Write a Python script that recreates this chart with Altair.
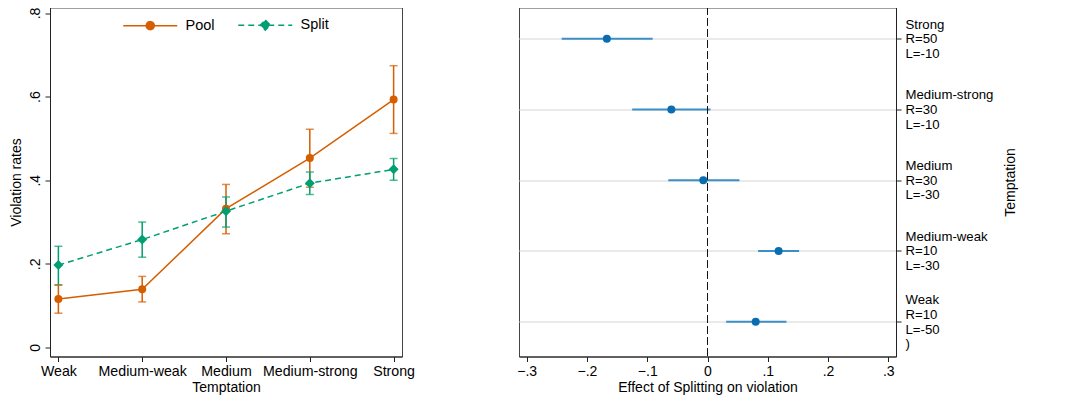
import json
import altair as alt
import pandas as pd

FONT = "Liberation Sans"

# ---------------- data ----------------
categories = ["Weak", "Medium-weak", "Medium", "Medium-strong", "Strong"]
groups = ["Pool", "Split"]
group_colors = ["#d55e00", "#009e73"]
group_dashes = [[1, 0], [6, 4]]

pool_mean = [0.116, 0.139, 0.332, 0.453, 0.593]
pool_lo = [0.082, 0.109, 0.272, 0.383, 0.512]
pool_hi = [0.149, 0.170, 0.390, 0.522, 0.674]

split_mean = [0.197, 0.258, 0.326, 0.393, 0.426]
split_lo = [0.150, 0.216, 0.288, 0.366, 0.400]
split_hi = [0.242, 0.300, 0.360, 0.420, 0.452]

effect = [0.080, 0.118, -0.007, -0.060, -0.167]
effect_lo = [0.031, 0.084, -0.065, -0.125, -0.242]
effect_hi = [0.131, 0.152, 0.053, 0.005, -0.091]
reward_R = [10, 10, 30, 30, 50]
loss_L = [-50, -30, -30, -10, -10]
extra_line = [")", "", "", "", ""]

left_y_ticks = [0, 0.2, 0.4, 0.6, 0.8]
right_x_ticks = [-0.3, -0.2, -0.1, 0, 0.1, 0.2, 0.3]

# legend symbols (line + marker), custom SVG paths
legend_symbols = [
    "M-6.75,0H6.75M-1,0A1,1,0,1,1,1,0A1,1,0,1,1,-1,0Z",
    "M-6.75,0H6.75M0,-1.25L1.25,0L0,1.25L-1.25,0Z",
]

# ---------------- tables ----------------
rows = []
for i, c in enumerate(categories):
    rows.append(dict(temptation=c, group="Pool", mean=pool_mean[i], lo=pool_lo[i], hi=pool_hi[i]))
for i, c in enumerate(categories):
    rows.append(dict(temptation=c, group="Split", mean=split_mean[i], lo=split_lo[i], hi=split_hi[i]))
left_df = pd.DataFrame(rows)

right_df = pd.DataFrame(dict(
    pos=list(range(1, len(categories) + 1)),
    temptation=categories,
    effect=effect, lo=effect_lo, hi=effect_hi,
))
label_lines = []
for i, c in enumerate(categories):
    lines = [c, f"R={reward_R[i]}", f"L={loss_L[i]}"]
    if extra_line[i]:
        lines.append(extra_line[i])
    label_lines.append(lines)
right_label_expr = json.dumps(label_lines) + "[datum.value - 1]"
LINE_H = 14.7

# ---------------- left panel ----------------
num_expr = "datum.value == 0 ? '0' : replace(format(datum.value, '.1f'), '0.', '.')"

x_left = alt.X(
    "temptation:O", sort=categories,
    scale=alt.Scale(type="point", padding=0.1),
    axis=alt.Axis(title="Temptation", labelAngle=0, labelPadding=3, titlePadding=2,
                  labelFontSize=14.2),
)
x_plain = alt.X("temptation:O", sort=categories)
y_scale = alt.Scale(domain=[-0.0216, 0.8132], nice=False, zero=False)
# colour scale of the drawn marks (legend comes from the legend-only layer)
color_enc = alt.Color("group:N",
                      scale=alt.Scale(domain=groups[::-1], range=group_colors[::-1]),
                      legend=None)

base = alt.Chart(left_df)
pool_base = base.transform_filter(alt.datum.group == groups[0])
split_base = base.transform_filter(alt.datum.group == groups[1])

line_pool = pool_base.mark_line(strokeWidth=1.5).encode(
    x=x_left,
    y=alt.Y("mean:Q", scale=y_scale,
            axis=alt.Axis(title="Violation rates", values=left_y_ticks, labelExpr=num_expr,
                          labelAngle=270, labelAlign="center", labelBaseline="bottom",
                          labelPadding=3, titlePadding=5)),
    color=color_enc,
)
line_split = split_base.mark_line(strokeWidth=1.5, strokeDash=group_dashes[1]).encode(
    x=x_plain, y="mean:Q", color=color_enc)
err = base.mark_rule(strokeWidth=1.5).encode(
    x=x_plain, y="lo:Q", y2="hi:Q", color=color_enc)
cap_lo = base.mark_tick(orient="horizontal", size=8, thickness=1.5).encode(
    x=x_plain, y="lo:Q", color=color_enc)
cap_hi = base.mark_tick(orient="horizontal", size=8, thickness=1.5).encode(
    x=x_plain, y="hi:Q", color=color_enc)
pts_pool = pool_base.mark_point(shape="circle", filled=True, size=64, opacity=1).encode(
    x=x_plain, y="mean:Q", color=color_enc)
pts_split = split_base.mark_point(shape="diamond", filled=True, size=100, opacity=1).encode(
    x=x_plain, y="mean:Q", color=color_enc)

# legend-only layer: no rows drawn, scales have explicit domains
legend_layer = base.transform_filter("false").mark_point(filled=True, opacity=1).encode(
    x=x_plain, y="mean:Q",
    fill=alt.Fill("group:N", scale=alt.Scale(domain=groups, range=group_colors),
                  legend=alt.Legend(title=None, orient="none", legendX=71, legendY=10,
                                    direction="horizontal", columns=2,
                                    symbolSize=64, symbolStrokeWidth=1.5, symbolOpacity=1,
                                    symbolOffset=22, labelOffset=28, columnPadding=20,
                                    labelFontSize=14.5, labelFont=FONT, padding=0)),
    stroke=alt.Stroke("group:N", scale=alt.Scale(domain=groups, range=group_colors)),
    shape=alt.Shape("group:N", scale=alt.Scale(domain=groups, range=legend_symbols)),
    strokeDash=alt.StrokeDash("group:N", scale=alt.Scale(domain=groups, range=group_dashes)),
)

left = alt.layer(line_pool, line_split, err, cap_lo, cap_hi, pts_pool, pts_split,
                 legend_layer).properties(width=352, height=349)

# ---------------- right panel ----------------
rbase = alt.Chart(right_df)
y_right = alt.Y(
    "pos:Q", scale=alt.Scale(domain=[0.5088, 5.4416], nice=False, zero=False),
    axis=alt.Axis(orient="right", title="Temptation", titleAngle=270, values=[1, 2, 3, 4, 5],
                  labelExpr=right_label_expr, labelAlign="left", labelBaseline="middle",
                  labelLineHeight=LINE_H, labelFontSize=13.2, labelPadding=4,
                  labelOffset={"condition": {"test": "datum.value == 1",
                                             "value": -(len(label_lines[0]) - 1) * LINE_H / 2},
                               "value": -(len(label_lines[1]) - 1) * LINE_H / 2},
                  grid=True, gridColor="#e3e3e3", gridWidth=1.6, titlePadding=25),
)
x_axis_right = alt.Axis(title="Effect of Splitting on violation", values=right_x_ticks,
                        labelExpr=num_expr, labelPadding=3, titlePadding=2)
x_scale_right = alt.Scale(domain=[-0.3128, 0.3128], nice=False, zero=False)

ci = rbase.mark_rule(color="#3b8fc6", strokeWidth=2).encode(
    x=alt.X("lo:Q", scale=x_scale_right, axis=x_axis_right), x2="hi:Q", y=y_right)
zero_rule = rbase.mark_rule(color="#111", strokeWidth=1, strokeDash=[7, 4]).encode(
    x=alt.datum(0))
dots = rbase.mark_circle(color="#0a6db0", size=64, opacity=1).encode(
    x=alt.X("effect:Q", scale=x_scale_right, axis=x_axis_right), y=y_right)

right = alt.layer(ci, zero_rule, dots).properties(width=377, height=349)

chart = alt.hconcat(left, right, spacing=117, bounds="flush").properties(
    padding={"left": 0, "top": -1.5, "right": 5, "bottom": 0}
).configure_axis(
    labelFont=FONT, titleFont=FONT, labelColor="#000", titleColor="#000",
    titleFontWeight="normal", labelFontSize=14, titleFontSize=14,
    tickColor="#222", domainColor="#222", tickSize=5, grid=False,
).configure_view(stroke="#444", strokeWidth=1)

chart.save("out.html", embed_options={"renderer": "svg", "actions": False})
